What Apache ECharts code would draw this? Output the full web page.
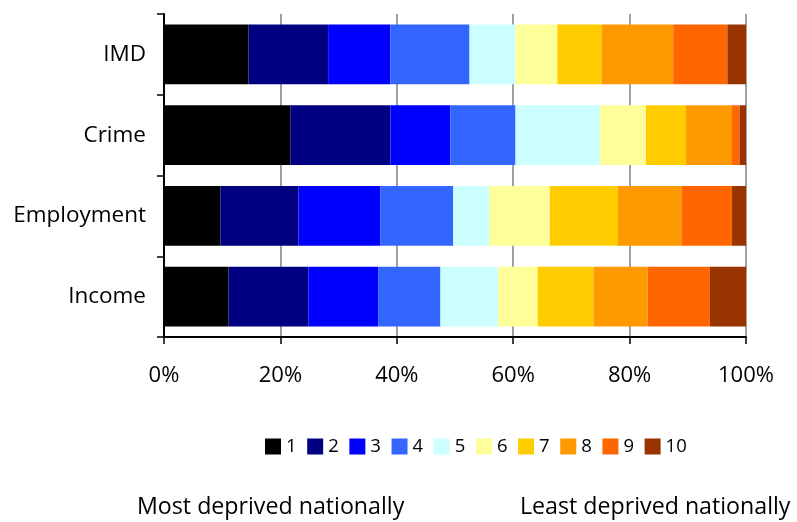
<!DOCTYPE html>
<html>
<head>
<meta charset="utf-8">
<script src="https://cdn.jsdelivr.net/npm/echarts@6/dist/echarts.min.js"></script>
<style>html,body{margin:0;padding:0;background:#fff}#c{width:797px;height:522px}</style>
</head>
<body>
<div id="c"></div>
<script>
const categories = ['IMD', 'Crime', 'Employment', 'Income'];
const seriesNames = ['1', '2', '3', '4', '5', '6', '7', '8', '9', '10'];
// percentage share of each decile per category (IMD, Crime, Employment, Income)
const d1  = [14.5, 21.7,  9.7, 11.1];
const d2  = [13.7, 17.2, 13.4, 13.7];
const d3  = [10.7, 10.3, 14.1, 12.0];
const d4  = [13.6, 11.2, 12.5, 10.7];
const d5  = [ 7.9, 14.5,  6.2,  9.9];
const d6  = [ 7.2,  7.9, 10.4,  6.8];
const d7  = [ 7.6,  6.9, 11.7,  9.6];
const d8  = [12.3,  7.9, 10.9,  9.3];
const d9  = [ 9.3,  1.3,  8.7, 10.7];
const d10 = [ 3.2,  1.1,  2.4,  6.2];
const xTicks = ['0%', '20%', '40%', '60%', '80%', '100%'];
const footLeft = 'Most deprived nationally';
const footRight = 'Least deprived nationally';

const values = [d1, d2, d3, d4, d5, d6, d7, d8, d9, d10];
const colors = ['#000000', '#000080', '#0000FF', '#3366FF', '#CCFFFF', '#FFFF99', '#FFCC00', '#FF9900', '#FF6600', '#993300'];
const FONT = '"Open Sans"';

const chart = echarts.init(document.getElementById('c'), null, {renderer: 'canvas'});
chart.setOption({
  animation: false,
  textStyle: {fontFamily: FONT},
  grid: {left: 164, right: 51, top: 14, bottom: 185, containLabel: false},
  legend: {
    data: seriesNames,
    left: 260, top: 432,
    itemWidth: 16, itemHeight: 16, itemGap: 10.6,
    icon: 'rect',
    textStyle: {fontFamily: FONT, fontSize: 18.5, color: '#000'}
  },
  xAxis: {
    type: 'value', min: 0, max: 100, interval: 20,
    axisLine: {show: true, lineStyle: {color: '#000', width: 2}},
    axisTick: {show: true, length: 7, lineStyle: {color: '#000', width: 1.5}},
    axisLabel: {
      formatter: function (v) { return xTicks[Math.round(v / 20)]; },
      fontSize: 22, color: '#000', margin: 28, fontFamily: FONT
    },
    splitLine: {show: true, lineStyle: {color: '#a0a0a0', width: 2}}
  },
  yAxis: {
    type: 'category', data: categories, inverse: true,
    axisLine: {show: true, lineStyle: {color: '#000', width: 2}},
    axisTick: {show: true, length: 7, lineStyle: {color: '#000', width: 1.5}},
    axisLabel: {fontSize: 22.5, color: '#000', margin: 18, fontFamily: FONT}
  },
  series: seriesNames.map((n, i) => ({
    name: n, type: 'bar', stack: 'all', data: values[i],
    barWidth: '74%',
    itemStyle: {color: colors[i]}
  })),
  graphic: [
    {type: 'text', left: 137, top: 496, style: {text: footLeft, font: '23.2px ' + FONT, fill: '#000'}},
    {type: 'text', left: 520, top: 496, style: {text: footRight, font: '23.2px ' + FONT, fill: '#000'}}
  ]
});
</script>
</body>
</html>
